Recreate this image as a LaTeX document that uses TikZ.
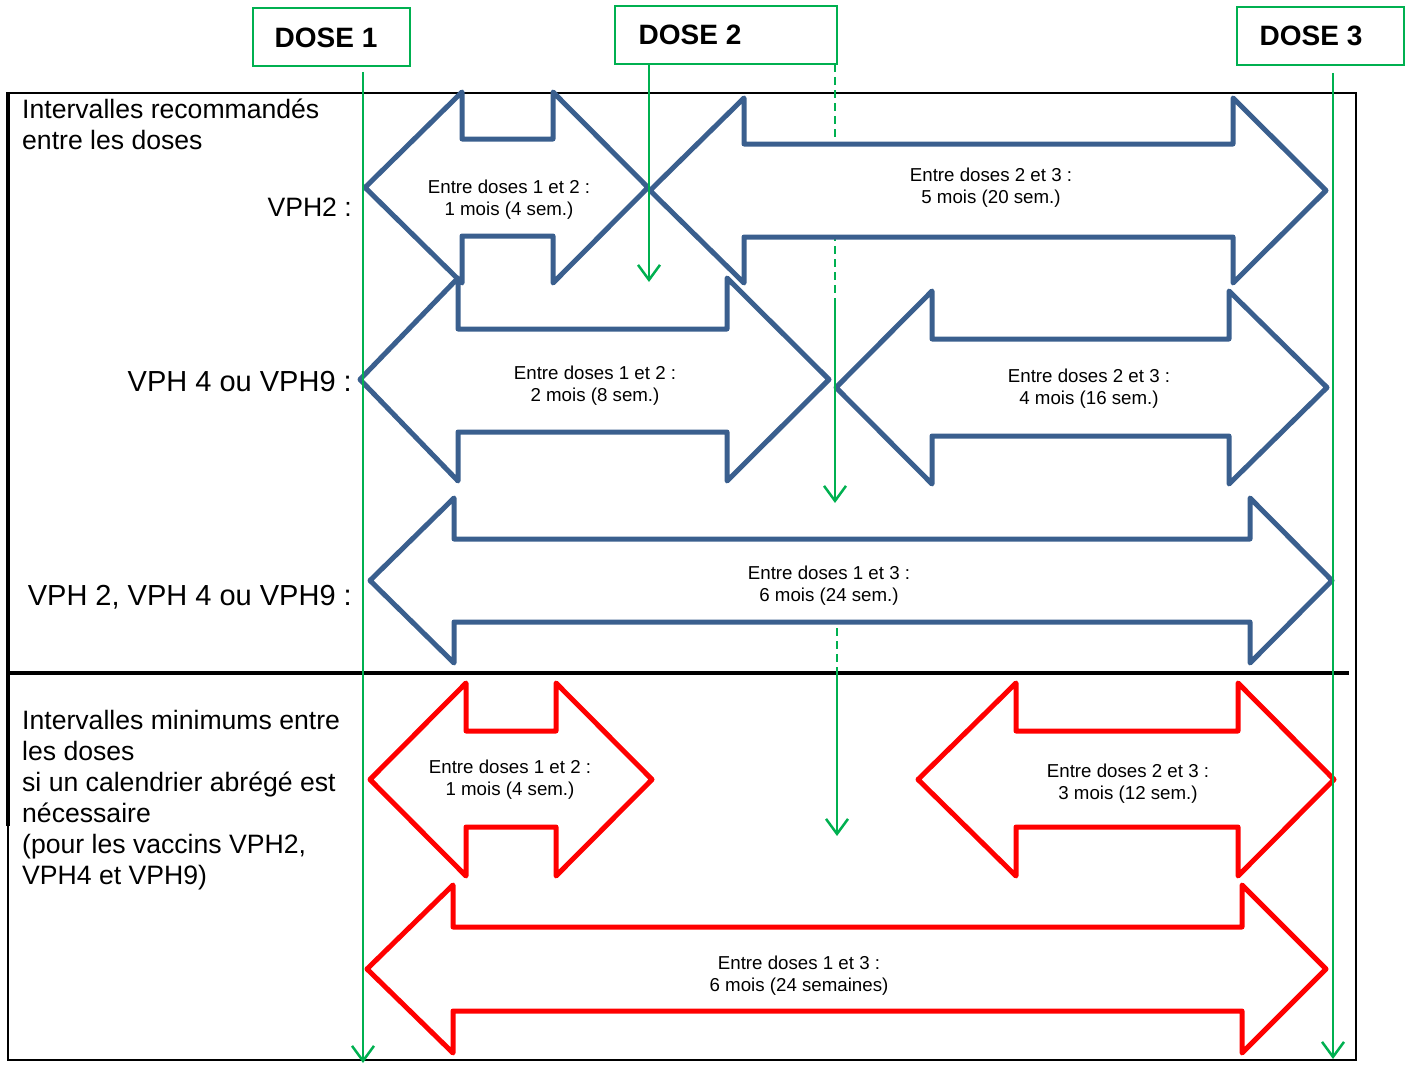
\documentclass[tikz,border=0pt]{standalone}
\usepackage{fontspec}
\setmainfont{Liberation Sans}
\usetikzlibrary{arrows.meta}
\definecolor{gr}{RGB}{0,176,80}
\definecolor{bl}{RGB}{58,95,142}
\definecolor{rd}{RGB}{255,0,0}
\newcommand\dblarr[9]{\draw[#1] (#2,{(#6+#9)/2}) -- (#3,#6) -- (#3,#7) -- (#4,#7) -- (#4,#6) -- (#5,{(#6+#9)/2}) -- (#4,#9) -- (#4,#8) -- (#3,#8) -- (#3,#9) -- cycle;}
\begin{document}
\begin{tikzpicture}[x=1pt,y=-1pt,
  blarr/.style={draw=bl, line width=5pt, fill=white, line join=round},
  rarr/.style={draw=rd, line width=5pt, fill=white, line join=round},
  gline/.style={draw=gr, line width=2pt},
  garr/.style={gline, -{Straight Barb[length=15pt,width=22pt,line width=2.5pt]}},
  gdash/.style={gline, dash pattern=on 8pt off 5pt},
  dosebox/.style={draw=gr, line width=2.5pt, inner sep=0pt},
  dosetxt/.style={font=\fontsize{28}{32}\selectfont\bfseries, inner sep=0pt},
  lbl/.style={font=\fontsize{18.7}{22}\selectfont, align=center, inner sep=0pt},
  side/.style={font=\fontsize{26.6}{31}\selectfont, align=left, inner sep=0pt, anchor=north west},
  vph/.style={font=\fontsize{29}{34}\selectfont, inner sep=0pt, anchor=base east}
]
\useasboundingbox (0,0) rectangle (1408,1065);
% frame
\draw[line width=2pt] (8,93) -- (1356,93) -- (1356,1060) -- (8,1060) -- (8,826);
\draw[line width=3.5pt] (8,826) -- (8,92);
\draw[line width=4pt] (8,673) -- (1349,673);
% dose boxes
\node[dosebox, minimum width=157pt, minimum height=58pt] (d1) at (331.5,37) {};
\node[dosetxt] (d1t) at (326,38) {DOSE 1};
\node[dosebox, minimum width=222pt, minimum height=58pt] (d2) at (726,35) {};
\node[dosetxt] (d2t) at (690,35) {DOSE 2};
\node[dosebox, minimum width=167pt, minimum height=58pt] (d3) at (1320.5,36) {};
\node[dosetxt] (d3t) at (1311,36) {DOSE 3};
% coordinates for green lines
\coordinate (g1s) at (363,72);
\coordinate (g1e) at (363,1063);
\coordinate (g2s) at (649,64);
\coordinate (g2e) at (649,282);
\coordinate (g3s) at (835,64);
\coordinate (g3m) at (835,302);
\coordinate (g3e) at (835,503);
\coordinate (g3s2) at (837,615);
\coordinate (g3m2) at (837,673);
\coordinate (g3e2) at (837,836);
\coordinate (g4s) at (1333,73);
\coordinate (g4e) at (1333,1059);
% dashed lines under arrows
\draw[gdash] (g3s) -- (g3m);
\draw[gdash] (g3s2) -- (g3m2);
% blue arrows
\dblarr{blarr}{365}{462}{553}{648}{92}{139}{236}{283}
\dblarr{blarr}{650}{744}{1233}{1326}{98}{144}{237}{283}
\dblarr{blarr}{360}{458}{727}{829}{278}{329}{432}{481}
\dblarr{blarr}{836}{932}{1229}{1327}{291}{339}{436}{484}
\dblarr{blarr}{370}{454}{1250}{1332}{498}{539}{622}{663}
% red arrows
\dblarr{rarr}{370}{466}{556}{652}{683}{731}{827}{876}
\dblarr{rarr}{918}{1016}{1238}{1334}{683}{731}{827}{876}
\dblarr{rarr}{367}{453}{1242}{1326}{885}{927}{1011}{1053}
% arrow labels
\node[lbl] (t1) at (509,199.5) {Entre doses 1 et 2 :\\1 mois (4 sem.)};
\node[lbl] (t2) at (991,187.5) {Entre doses 2 et 3 :\\5 mois (20 sem.)};
\node[lbl] (t3) at (595,385.5) {Entre doses 1 et 2 :\\2 mois (8 sem.)};
\node[lbl] (t4) at (1089,388.5) {Entre doses 2 et 3 :\\4 mois (16 sem.)};
\node[lbl] (t5) at (829,585.5) {Entre doses 1 et 3 :\\6 mois (24 sem.)};
\node[lbl] (t6) at (510,779.5) {Entre doses 1 et 2 :\\1 mois (4 sem.)};
\node[lbl] (t7) at (1128,783.5) {Entre doses 2 et 3 :\\3 mois (12 sem.)};
\node[lbl] (t8) at (799,975.5) {Entre doses 1 et 3 :\\6 mois (24 semaines)};
% side labels
\node[side] (s1) at (22,99) {Intervalles recommandés\\entre les doses};
\node[vph, font=\fontsize{26.6}{31}\selectfont] (v1) at (352,216.5) {VPH2 :};
\node[vph] (v2) at (352,391.5) {VPH 4 ou VPH9 :};
\node[vph] (v3) at (352,605.5) {VPH 2, VPH 4 ou VPH9 :};
\node[side] (s2) at (22,710) {Intervalles minimums entre\\les doses\\si un calendrier abrégé est\\nécessaire\\(pour les vaccins VPH2,\\VPH4 et VPH9)};
% green solid lines
\draw[garr] (g1s) -- (g1e);
\draw[garr] (g2s) -- (g2e);
\draw[garr] (g3m) -- (g3e);
\draw[garr] (g3m2) -- (g3e2);
\draw[garr] (g4s) -- (g4e);
\end{tikzpicture}
\end{document}
